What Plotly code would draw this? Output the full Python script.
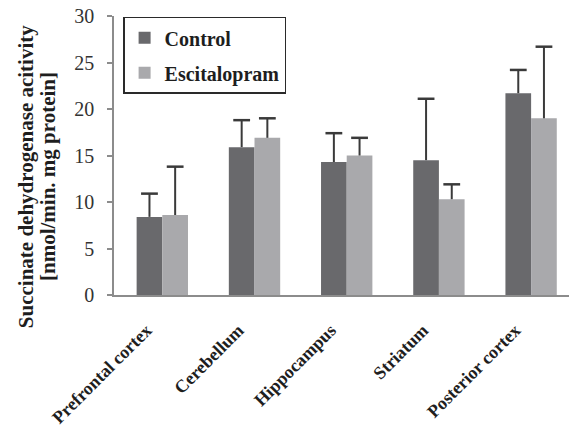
import plotly.graph_objects as go

# Brain regions and succinate dehydrogenase activity (mean + SD)
regions = ["Prefrontal cortex", "Cerebellum", "Hippocampus", "Striatum", "Posterior cortex"]
control_mean = [8.4, 15.9, 14.3, 14.5, 21.7]
control_sd = [2.5, 2.9, 3.1, 6.6, 2.5]
escitalopram_mean = [8.6, 16.9, 15.0, 10.3, 19.0]
escitalopram_sd = [5.2, 2.1, 1.9, 1.6, 7.7]
y_ticks = [0, 5, 10, 15, 20, 25, 30]

SERIF = "Liberation Serif"
TEXT = "#1e1e1e"
AXIS = "#8c8c8c"
ERR = "#3a3a3a"
BAR_W = 0.2785
NBSP = "\u00a0"

idx = list(range(len(regions)))

fig = go.Figure()


def add_series(name, means, sds, color, offset, group):
    # Bar with an upward-only error whisker (no cap at the bar top)
    fig.add_trace(go.Bar(
        name=name, legendgroup=group,
        x=idx, y=means, width=BAR_W, offset=offset,
        marker=dict(color=color, line=dict(width=0)),
        error_y=dict(type="data", symmetric=False, array=sds,
                     arrayminus=[0] * len(sds),
                     color=ERR, thickness=2, width=0),
    ))
    # Cap on the top end of each whisker
    centers = [i + offset + BAR_W / 2 for i in idx]
    tops = [m + s for m, s in zip(means, sds)]
    fig.add_trace(go.Scatter(
        x=centers, y=tops, mode="markers", showlegend=False,
        legendgroup=group, hoverinfo="skip",
        marker=dict(symbol="line-ew", size=12,
                    line=dict(color=ERR, width=2.5)),
    ))


add_series("Control", control_mean, control_sd, "#69696c", -BAR_W, "c")
add_series("Escitalopram", escitalopram_mean, escitalopram_sd, "#a9a9ac", 0, "e")

# Two-line rotated y-axis title
for text, xp in [("Succinate dehydrogenase acitivity", -0.193),
                 ("[nmol/min. mg protein]", -0.145)]:
    fig.add_annotation(
        text=text, xref="paper", yref="paper", x=xp, y=0.423,
        xanchor="center", yanchor="middle", textangle=-90, showarrow=False,
        font=dict(family=SERIF, size=21, color=TEXT, weight="bold"),
    )

fig.update_layout(
    width=569, height=433,
    margin=dict(l=114, r=0, t=16, b=138),
    paper_bgcolor="white", plot_bgcolor="white",
    font=dict(family=SERIF, color=TEXT),
    legend=dict(
        x=0.02, y=0.997, xanchor="left", yanchor="top",
        bgcolor="white", bordercolor="#2a2a2a", borderwidth=1.5,
        font=dict(family=SERIF, size=20, color=TEXT, weight="bold"),
        traceorder="grouped", tracegroupgap=6,
    ),
    xaxis=dict(
        range=[-0.524, 4.411],
        tickvals=idx, ticktext=[r + NBSP * 5 for r in regions],
        showline=True, linecolor=AXIS, linewidth=1.5,
        ticks="", showgrid=False, zeroline=False,
        tickangle=-45,
        tickfont=dict(family=SERIF, size=18, color=TEXT, weight="bold"),
    ),
    yaxis=dict(
        range=[0, 30], tickvals=y_ticks,
        showline=True, linecolor=AXIS, linewidth=1.5,
        ticks="outside", ticklen=5, tickcolor=AXIS, tickwidth=1.5,
        showgrid=False, zeroline=False, ticklabelstandoff=9,
        tickfont=dict(family=SERIF, size=20, color="#333333"),
    ),
)

fig.write_html("out.html")
